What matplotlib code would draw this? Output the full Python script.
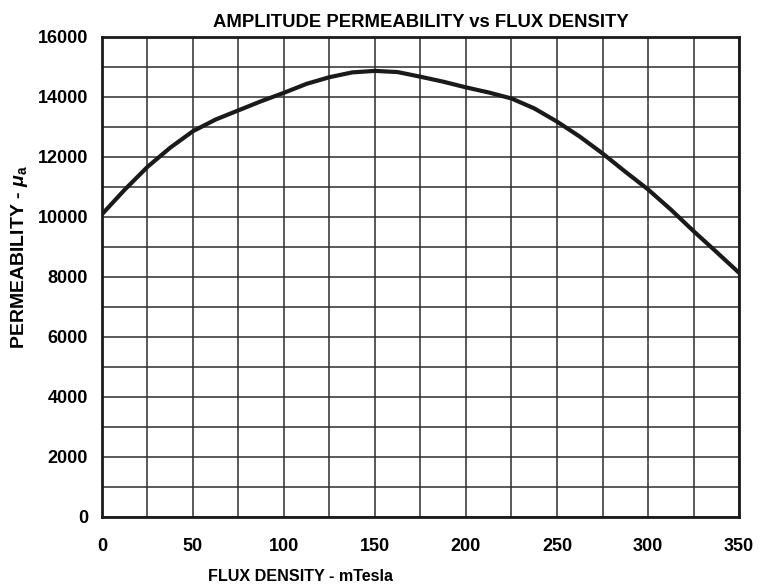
import matplotlib
matplotlib.use('Agg')
import matplotlib.pyplot as plt
from matplotlib.ticker import MultipleLocator

# values (every 12.5 mT)
flux_density = [0, 12.5, 25, 37.5, 50, 62.5, 75, 87.5, 100, 112.5, 125, 137.5, 150,
                162.5, 175, 187.5, 200, 212.5, 225, 237.5, 250, 262.5, 275, 287.5,
                300, 312.5, 325, 337.5, 350]
permeability = [10080, 10900, 11660, 12300, 12850, 13240, 13545, 13850, 14130, 14430,
                14650, 14810, 14860, 14820, 14665, 14500, 14310, 14140, 13940, 13610,
                13170, 12670, 12110, 11500, 10910, 10240, 9520, 8830, 8130]

plt.rcParams['font.family'] = ['Liberation Sans', 'DejaVu Sans']
plt.rcParams['font.weight'] = 'bold'
plt.rcParams['mathtext.fontset'] = 'custom'
plt.rcParams['mathtext.rm'] = 'Liberation Sans:bold'
plt.rcParams['mathtext.it'] = 'Liberation Sans:italic:bold'
plt.rcParams['mathtext.bf'] = 'Liberation Sans:bold'

fig = plt.figure(figsize=(7.69, 5.87), dpi=100)
ax = fig.add_axes([0.1326, 0.1198, 0.961 - 0.1326, 0.9375 - 0.1198])

ax.plot(flux_density, permeability, color='#1a1a1a', linewidth=3.0,
        solid_capstyle='round', solid_joinstyle='round', zorder=3)

ax.set_xlim(0, 350)
ax.set_ylim(0, 16000)
ax.xaxis.set_major_locator(MultipleLocator(50))
ax.xaxis.set_minor_locator(MultipleLocator(25))
ax.yaxis.set_major_locator(MultipleLocator(2000))
ax.yaxis.set_minor_locator(MultipleLocator(1000))
ax.grid(True, which='both', color='#2e2e2e', linewidth=1.1)
ax.tick_params(which='both', length=0)
ax.tick_params(axis='x', pad=15, labelsize=13)
ax.tick_params(axis='y', pad=10, labelsize=13)
for s in ax.spines.values():
    s.set_linewidth(2.0)
    s.set_color('#1a1a1a')

ax.set_title('AMPLITUDE PERMEABILITY vs FLUX DENSITY', fontsize=13.3, fontweight='bold', pad=7)
ax.set_xlabel('FLUX DENSITY - mTesla', fontsize=11.6, fontweight='bold')
ax.xaxis.set_label_coords(0.311, -0.109)
ax.set_ylabel(r'PERMEABILITY - $\mathit{\mu}_{\mathrm{a}}$', fontsize=14, fontweight='bold')
ax.yaxis.set_label_coords(-0.113, 0.541)

fig.savefig('out.png', dpi=100)
